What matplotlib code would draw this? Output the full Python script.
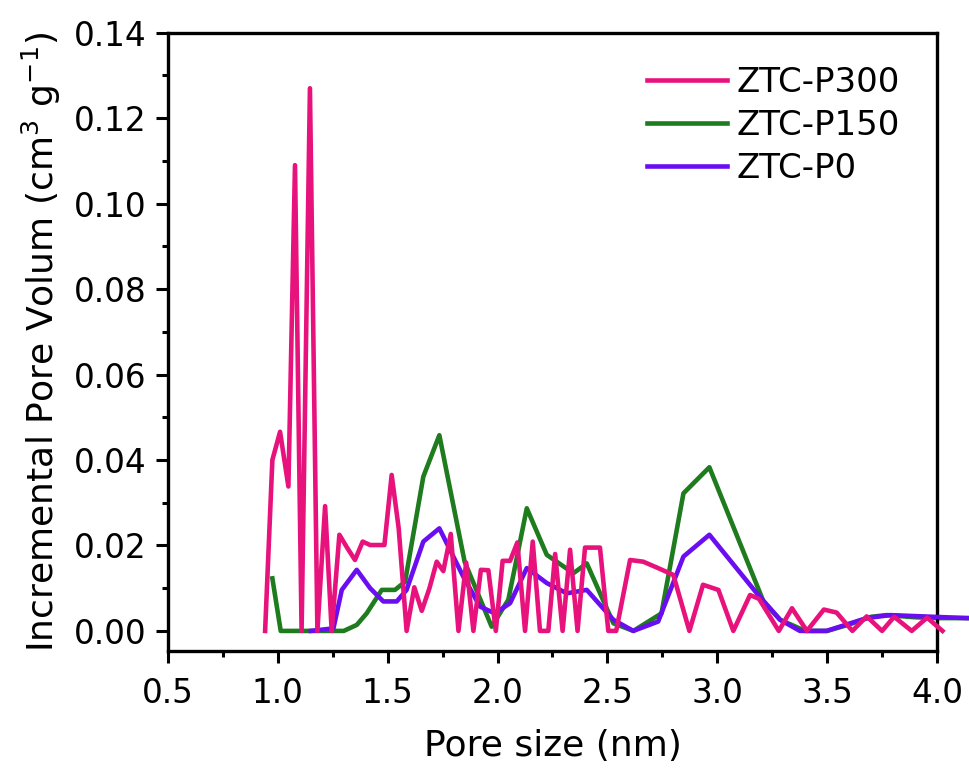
import matplotlib
matplotlib.use('Agg')
import matplotlib.pyplot as plt
from matplotlib.ticker import MultipleLocator

plt.rcParams['font.family'] = ['DejaVu Sans']
plt.rcParams['mathtext.fontset'] = 'dejavusans'

# Incremental pore volume vs pore size (DFT) for the three ZTC samples
p300_x = [0.942, 0.975, 1.010, 1.048, 1.078, 1.108, 1.146, 1.180, 1.215, 1.245,
          1.280, 1.315, 1.351, 1.386, 1.420, 1.453, 1.485, 1.518, 1.550, 1.586,
          1.621, 1.655, 1.690, 1.723, 1.753, 1.787, 1.822, 1.857, 1.890, 1.924,
          1.958, 1.992, 2.023, 2.057, 2.090, 2.125, 2.160, 2.193, 2.231, 2.262,
          2.296, 2.330, 2.364, 2.398, 2.432, 2.466, 2.504, 2.540, 2.603, 2.663,
          2.731, 2.800, 2.873, 2.935, 3.005, 3.073, 3.149, 3.190, 3.280, 3.340,
          3.408, 3.485, 3.543, 3.615, 3.680, 3.750, 3.805, 3.885, 3.955, 4.025]
p300_y = [0.0, 0.0400, 0.0466, 0.0338, 0.1090, 0.0, 0.1270, 0.0, 0.0292, 0.0,
          0.0225, 0.0195, 0.0166, 0.0209, 0.0201, 0.0201, 0.0201, 0.0365, 0.0240, 0.0,
          0.0102, 0.0047, 0.0100, 0.0162, 0.0140, 0.0227, 0.0, 0.0160, 0.0, 0.0143,
          0.0142, 0.0, 0.0164, 0.0164, 0.0207, 0.0, 0.0209, 0.0, 0.0, 0.0180,
          0.0, 0.0190, 0.0, 0.0195, 0.0195, 0.0195, 0.0, 0.0, 0.0166, 0.0162,
          0.0147, 0.0131, 0.0, 0.0108, 0.0096, 0.0, 0.0084, 0.0075, 0.0, 0.0053,
          0.0, 0.0050, 0.0043, 0.0, 0.0034, 0.0, 0.0033, 0.0, 0.0031, 0.0]

p150_x = [0.975, 1.013, 1.100, 1.200, 1.300, 1.359, 1.404, 1.473, 1.533, 1.579,
          1.662, 1.735, 1.850, 1.973, 2.049, 2.133, 2.224, 2.345, 2.406, 2.527,
          2.618, 2.746, 2.846, 2.964, 3.210, 3.286, 3.400, 3.500, 3.600, 3.700,
          3.770, 3.900, 4.000, 4.135]
p150_y = [0.0123, 0.0, 0.0, 0.0, 0.0, 0.0014, 0.0041, 0.0096, 0.0096, 0.0115,
          0.0361, 0.0458, 0.0162, 0.0010, 0.0073, 0.0287, 0.0178, 0.0135, 0.0158, 0.0018,
          0.0, 0.0041, 0.0322, 0.0383, 0.0069, 0.0026, 0.0, 0.0, 0.0015, 0.0033,
          0.0037, 0.0032, 0.0030, 0.0030]

p0_x = [1.150, 1.253, 1.291, 1.359, 1.420, 1.480, 1.541, 1.586, 1.662, 1.735,
        1.844, 1.920, 1.988, 2.057, 2.133, 2.224, 2.315, 2.406, 2.527, 2.618,
        2.731, 2.846, 2.964, 3.180, 3.286, 3.376, 3.497, 3.680, 3.786, 4.135]
p0_y = [0.0, 0.0006, 0.0096, 0.0143, 0.0100, 0.0069, 0.0069, 0.0096, 0.0209, 0.0240,
        0.0127, 0.0057, 0.0041, 0.0065, 0.0147, 0.0112, 0.0088, 0.0096, 0.0026, 0.0,
        0.0022, 0.0174, 0.0225, 0.0088, 0.0026, 0.0, 0.0, 0.0030, 0.0037, 0.0030]

labels = ['ZTC-P300', 'ZTC-P150', 'ZTC-P0']
colors = ['#E8127C', '#1E7B1E', '#6A0DF0']

fig = plt.figure(figsize=(9.7, 7.76), dpi=100)
ax = fig.add_axes([168 / 970, 1 - 651 / 776, (937 - 168) / 970, (651 - 32.7) / 776])

# lines run past the right spine, so no clipping
lw = 3.3
l1, = ax.plot(p300_x, p300_y, color=colors[0], lw=lw, label=labels[0], zorder=4, clip_on=False)
l2, = ax.plot(p150_x, p150_y, color=colors[1], lw=lw, label=labels[1], zorder=2, clip_on=False)
l3, = ax.plot(p0_x, p0_y, color=colors[2], lw=lw, label=labels[2], zorder=3, clip_on=False)

ax.set_xlim(0.5, 4.0)
ax.set_ylim(-0.0047, 0.14)
ax.xaxis.set_major_locator(MultipleLocator(0.5))
ax.xaxis.set_minor_locator(MultipleLocator(0.25))
ax.yaxis.set_major_locator(MultipleLocator(0.02))
ax.yaxis.set_minor_locator(MultipleLocator(0.01))
ax.xaxis.set_major_formatter(lambda v, p: f'{v:.1f}')
ax.yaxis.set_major_formatter(lambda v, p: f'{v:.2f}')

for s in ax.spines.values():
    s.set_linewidth(2.4)
ax.tick_params(which='both', direction='out', width=2.2, top=False, right=False)
ax.tick_params(which='major', length=8.5, labelsize=23.5)
ax.tick_params(axis='x', which='major', pad=10)
ax.tick_params(axis='y', which='major', pad=7)
ax.tick_params(which='minor', length=4.5)

ax.set_xlabel('Pore size (nm)', fontsize=26, labelpad=14)
ax.set_ylabel(r'Incremental Pore Volum (cm$^3$ g$^{-1}$)', fontsize=26, labelpad=8)

ax.legend(handles=[l1, l2, l3], loc='upper left', bbox_to_anchor=(647 / 970, 1 - 66 / 776),
          bbox_transform=fig.transFigure, frameon=False, fontsize=24.5,
          handlelength=2.35, handletextpad=0.28, labelspacing=0.29,
          borderpad=0, borderaxespad=0)

fig.savefig('out.png', dpi=100)
